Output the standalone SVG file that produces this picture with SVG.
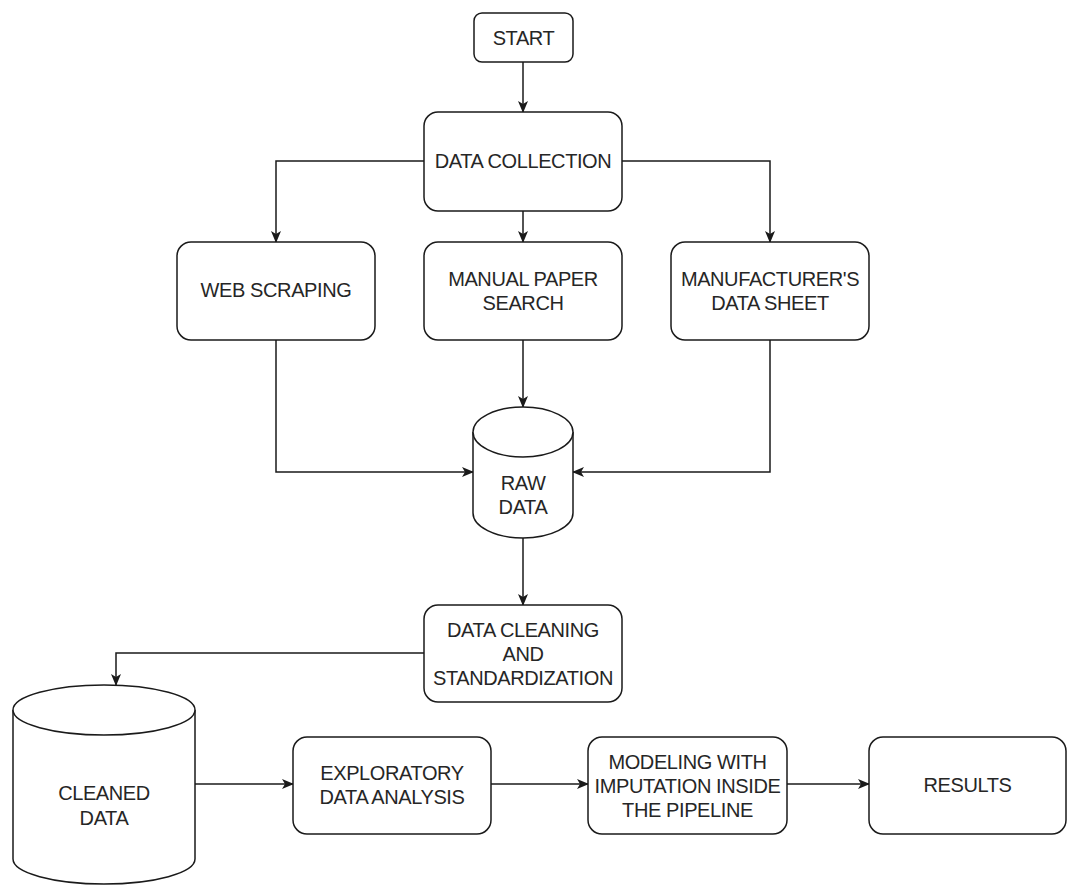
<svg xmlns="http://www.w3.org/2000/svg" width="1079" height="896" viewBox="0 0 1079 896">
<defs>
<style>
.box{fill:#fff;stroke:#1a1a1a;stroke-width:1.5}
.cyl{fill:#fff;stroke:#1a1a1a;stroke-width:1.5}
.edge{fill:none;stroke:#1a1a1a;stroke-width:1.5}
text{font-family:"Liberation Sans",Arial,sans-serif;font-size:20px;letter-spacing:-0.4px;fill:#262626;text-anchor:middle}
</style>
<marker id="arr" viewBox="0 0 12 10" refX="11" refY="5" markerWidth="12" markerHeight="10" markerUnits="userSpaceOnUse" orient="auto">
<path d="M0,0 L12,5 L0,10 L3,5 z" fill="#1a1a1a"/>
</marker>
</defs>
<rect width="1079" height="896" fill="#fff"/>
<g id="connectors">
<path class="edge" d="M523,62 V112" marker-end="url(#arr)"/>
<path class="edge" d="M424,161 H276 V242" marker-end="url(#arr)"/>
<path class="edge" d="M622,161 H770 V242" marker-end="url(#arr)"/>
<path class="edge" d="M523,211 V242" marker-end="url(#arr)"/>
<path class="edge" d="M276,340 V472 H473" marker-end="url(#arr)"/>
<path class="edge" d="M770,340 V472 H573" marker-end="url(#arr)"/>
<path class="edge" d="M523,340 V407" marker-end="url(#arr)"/>
<path class="edge" d="M523,538 V605" marker-end="url(#arr)"/>
<path class="edge" d="M424,653 H116 V685" marker-end="url(#arr)"/>
<path class="edge" d="M195,784 H293" marker-end="url(#arr)"/>
<path class="edge" d="M491,784 H588" marker-end="url(#arr)"/>
<path class="edge" d="M787,784 H869" marker-end="url(#arr)"/>
</g>
<g id="start">
<rect class="box" x="474" y="13" width="99" height="49" rx="8"/>
<text x="523.5" y="45">START</text>
</g>
<g id="data-collection">
<rect class="box" x="424" y="112" width="198" height="99" rx="14"/>
<text x="523" y="168">DATA COLLECTION</text>
</g>
<g id="web-scraping">
<rect class="box" x="177" y="242" width="198" height="98" rx="14"/>
<text x="276" y="297">WEB SCRAPING</text>
</g>
<g id="manual-paper-search">
<rect class="box" x="424" y="242" width="198" height="98" rx="14"/>
<text x="523" y="286">MANUAL PAPER</text>
<text x="523" y="310">SEARCH</text>
</g>
<g id="manufacturers-data-sheet">
<rect class="box" x="671" y="242" width="198" height="98" rx="14"/>
<text x="770" y="286">MANUFACTURER'S</text>
<text x="770" y="310">DATA SHEET</text>
</g>
<g id="raw-data">
<path class="cyl" d="M473,432 A50,25 0 0 1 573,432 V513 A50,25 0 0 1 473,513 Z"/>
<path class="cyl" d="M473,432 A50,25 0 0 0 573,432"/>
<text x="523" y="490">RAW</text>
<text x="523" y="514">DATA</text>
</g>
<g id="data-cleaning">
<rect class="box" x="424" y="605" width="198" height="97" rx="14"/>
<text x="523" y="637">DATA CLEANING</text>
<text x="523" y="661">AND</text>
<text x="523" y="685">STANDARDIZATION</text>
</g>
<g id="cleaned-data">
<path class="cyl" d="M13,710 A91,25 0 0 1 195,710 V859 A91,25 0 0 1 13,859 Z"/>
<path class="cyl" d="M13,710 A91,25 0 0 0 195,710"/>
<text x="104" y="800">CLEANED</text>
<text x="104" y="825">DATA</text>
</g>
<g id="eda">
<rect class="box" x="293" y="737" width="198" height="97" rx="14"/>
<text x="392" y="780">EXPLORATORY</text>
<text x="392" y="804">DATA ANALYSIS</text>
</g>
<g id="modeling">
<rect class="box" x="588" y="737" width="199" height="97" rx="14"/>
<text x="687.5" y="769">MODELING WITH</text>
<text x="687.5" y="793">IMPUTATION INSIDE</text>
<text x="687.5" y="817">THE PIPELINE</text>
</g>
<g id="results">
<rect class="box" x="869" y="737" width="197" height="97" rx="14"/>
<text x="967.5" y="792">RESULTS</text>
</g>
</svg>
